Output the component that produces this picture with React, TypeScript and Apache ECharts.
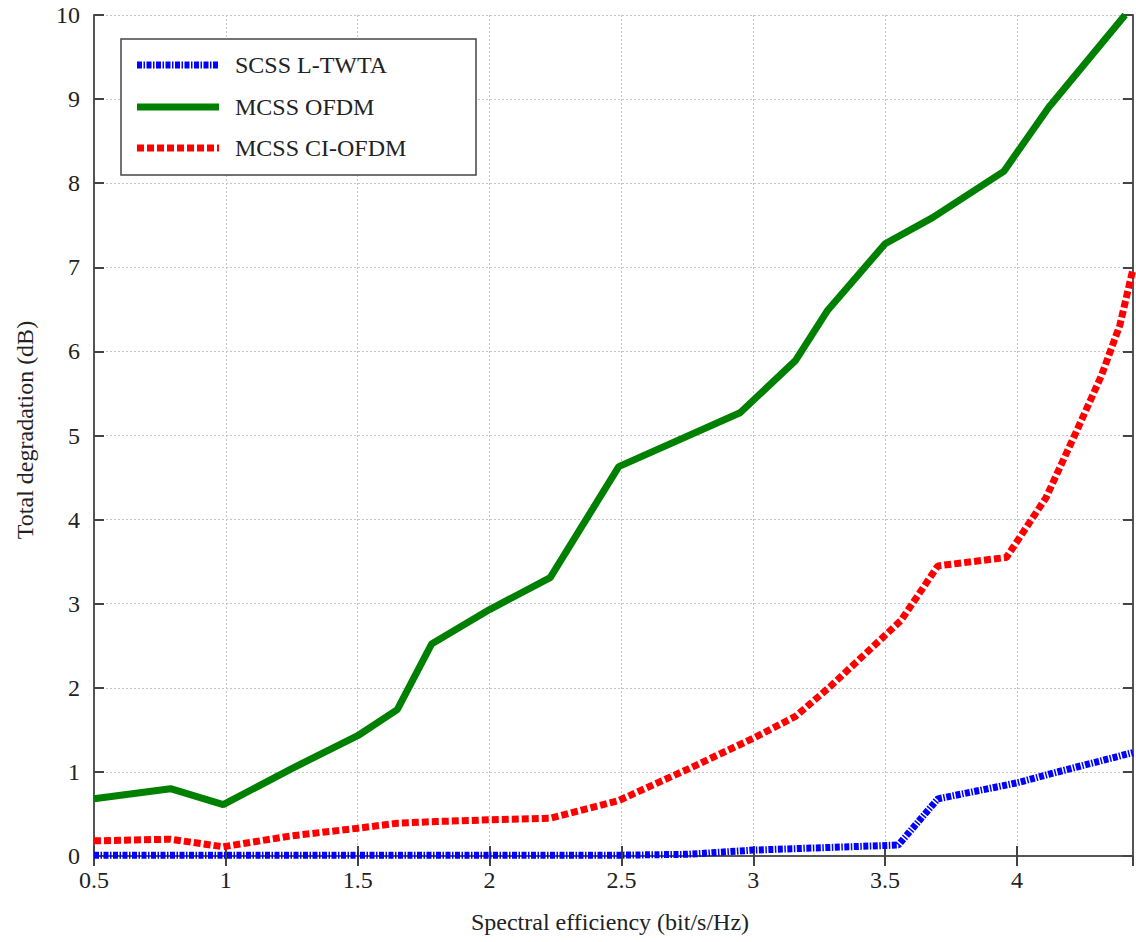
import React, { useEffect, useRef } from "react";
import * as echarts from "echarts";

const seriesNames = ["SCSS L-TWTA", "MCSS OFDM", "MCSS CI-OFDM"];

const scssX = [0.5, 1.0, 1.5, 2.0, 2.5, 2.75, 3.0, 3.55, 3.7, 4.0, 4.13, 4.44];
const scssY = [0.01, 0.01, 0.01, 0.01, 0.01, 0.02, 0.07, 0.13, 0.68, 0.87, 0.98, 1.23];

const ofdmX = [0.5, 0.79, 0.99, 1.25, 1.5, 1.65, 1.78, 2.0, 2.23, 2.49, 2.95, 3.16, 3.28, 3.5, 3.68, 3.95, 4.12, 4.41];
const ofdmY = [0.68, 0.8, 0.61, 1.04, 1.43, 1.74, 2.52, 2.93, 3.31, 4.63, 5.27, 5.89, 6.48, 7.28, 7.59, 8.14, 8.9, 10.0];

const ciX = [0.5, 0.79, 0.99, 1.25, 1.5, 1.65, 1.8, 2.0, 2.23, 2.49, 2.75, 3.0, 3.16, 3.29, 3.56, 3.7, 3.96, 4.11, 4.23, 4.32, 4.39, 4.44];
const ciY = [0.18, 0.2, 0.11, 0.24, 0.33, 0.39, 0.41, 0.43, 0.45, 0.66, 1.03, 1.4, 1.66, 2.01, 2.8, 3.45, 3.55, 4.26, 5.08, 5.71, 6.31, 6.98];

const xMin = 0.5;
const xMax = 4.44;
const xStep = 0.5;
const yMin = 0;
const yMax = 10;
const yStep = 1;

const xTitle = "Spectral efficiency (bit/s/Hz)";
const yTitle = "Total degradation (dB)";

const FONT = "'Liberation Serif', 'Times New Roman', serif";

const zip = (xs: number[], ys: number[]) => xs.map((x, i) => [x, ys[i]]);

const seriesStyles = [
  { color: "#0000ff", width: 7, dash: [5, 1.5, 1.5, 1.5] as number[] | null },
  { color: "#008000", width: 7, dash: null as number[] | null },
  { color: "#ff0000", width: 7, dash: [7, 3] as number[] | null },
];

export default function App() {
  const ref = useRef<HTMLDivElement>(null);
  useEffect(() => {
    if (!ref.current) return;
    const chart = echarts.init(ref.current, null, { renderer: "svg" });
    const axisLine = { show: true, lineStyle: { color: "#555", width: 2 } };
    const tick = { show: true, inside: true, length: 10, lineStyle: { color: "#444", width: 2 } };
    const split = { show: true, lineStyle: { color: "#c4c4c4", width: 1, type: [2, 2] as any } };
    const label = { color: "#222", fontFamily: FONT, fontSize: 24 };

    const legendLeft = 121;
    const legendTop = 39;
    const rowY = [65, 107, 148];
    const legendGraphics: any[] = [
      {
        type: "rect",
        shape: { x: legendLeft, y: legendTop, width: 355, height: 136 },
        style: { fill: "#fff", stroke: "#444", lineWidth: 1.5 },
        z: 100,
      },
    ];
    seriesNames.forEach((name, i) => {
      const s = seriesStyles[i];
      legendGraphics.push({
        type: "line",
        shape: { x1: 137, y1: rowY[i], x2: 219, y2: rowY[i] },
        style: { stroke: s.color, lineWidth: s.width, lineDash: s.dash || undefined, lineCap: "butt" },
        z: 101,
      });
      legendGraphics.push({
        type: "text",
        x: 235,
        y: rowY[i],
        style: { text: name, font: `24px ${FONT}`, fill: "#222", align: "left", verticalAlign: "middle" },
        z: 101,
      });
    });

    const option: any = {
      animation: false,
      backgroundColor: "#fff",
      grid: { left: 94, right: 3, top: 15, bottom: 86, containLabel: false },
      xAxis: [
        {
          type: "value",
          min: xMin,
          max: xMax,
          interval: xStep,
          position: "bottom",
          axisLine,
          axisTick: tick,
          splitLine: split,
          axisLabel: { ...label, margin: 12, showMaxLabel: false, formatter: (v: number) => String(v) },
        },
        {
          type: "value",
          min: xMin,
          max: xMax,
          interval: xStep,
          position: "top",
          axisLine,
          axisTick: tick,
          splitLine: { show: false },
          axisLabel: { show: false },
        },
      ],
      yAxis: [
        {
          type: "value",
          min: yMin,
          max: yMax,
          interval: yStep,
          position: "left",
          axisLine,
          axisTick: tick,
          splitLine: split,
          axisLabel: { ...label, margin: 14 },
        },
        {
          type: "value",
          min: yMin,
          max: yMax,
          interval: yStep,
          position: "right",
          axisLine,
          axisTick: tick,
          splitLine: { show: false },
          axisLabel: { show: false },
        },
      ],
      legend: { show: false, data: seriesNames },
      graphic: [
        {
          type: "text",
          x: 610,
          y: 922,
          style: { text: xTitle, font: `24px ${FONT}`, fill: "#222", align: "center", verticalAlign: "middle" },
        },
        {
          type: "text",
          x: 25,
          y: 430,
          rotation: Math.PI / 2,
          style: { text: yTitle, font: `24px ${FONT}`, fill: "#222", align: "center", verticalAlign: "middle" },
        },
        ...legendGraphics,
      ],
      series: [
        { x: scssX, y: scssY },
        { x: ofdmX, y: ofdmY },
        { x: ciX, y: ciY },
      ].map((d, i) => ({
        name: seriesNames[i],
        type: "line",
        data: zip(d.x, d.y),
        showSymbol: false,
        symbol: "none",
        color: seriesStyles[i].color,
        lineStyle: {
          color: seriesStyles[i].color,
          width: seriesStyles[i].width,
          type: seriesStyles[i].dash || "solid",
          cap: "butt",
        },
        z: i === 0 ? 4 : 3,
      })),
    };
    chart.setOption(option);
    return () => chart.dispose();
  }, []);
  return (
    <div
      ref={ref}
      style={{ position: "fixed", left: 0, top: 0, width: 1136, height: 942, background: "#fff" }}
    />
  );
}
